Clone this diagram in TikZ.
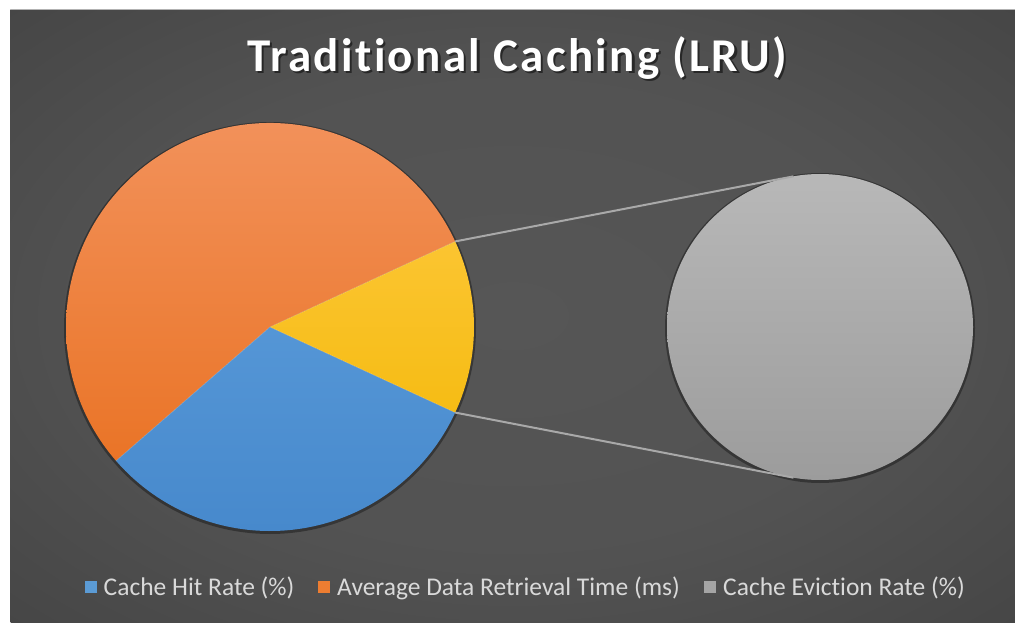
\documentclass[tikz,border=0pt]{standalone}
\usepackage{fontspec}
\setmainfont{Carlito}[Ligatures=NoCommon]
\newfontfamily\titlefont{Carlito}[LetterSpace=5.0, Ligatures=NoCommon]
\usetikzlibrary{calc}

\definecolor{bgIn}{HTML}{565656}
\definecolor{bgOut}{HTML}{292929}
\definecolor{orTop}{HTML}{F2915A}
\definecolor{orBot}{HTML}{E86E1C}
\definecolor{blTop}{HTML}{62A3E0}
\definecolor{blBot}{HTML}{4789CC}
\definecolor{yeTop}{HTML}{FFCB45}
\definecolor{yeBot}{HTML}{F2B600}
\definecolor{grTop}{HTML}{B8B8B8}
\definecolor{grBot}{HTML}{9C9C9C}
\definecolor{legText}{HTML}{D9D9D9}
\definecolor{linkGray}{HTML}{A9A9A9}
\definecolor{orKey}{HTML}{ED7D31}
\definecolor{blKey}{HTML}{5B9BD5}
\definecolor{grKey}{HTML}{A5A5A5}

\pgfdeclareradialshading{panelglow}{\pgfpoint{0bp}{0bp}}{%
  color(0bp)=(bgIn); color(20bp)=(bgIn!92!bgOut); color(72bp)=(bgOut)}

\tikzset{
  legendkey/.style={minimum size=12pt, inner sep=0pt, draw=none},
  legendlabel/.style={text=legText, font=\fontsize{25.5}{28}\selectfont, anchor=base west, inner sep=0pt},
  titletext/.style={font=\titlefont\bfseries\fontsize{47}{52}\selectfont, inner sep=0pt},
  link/.style={draw=linkGray, line width=2pt},
}

\begin{document}
\begin{tikzpicture}[x=1pt,y=1pt]
  % page and dark chart panel
  \useasboundingbox (0,0) rectangle (1015,622);
  \fill[white] (0,0) rectangle (1015,622);
  \shade[shading=panelglow] (10.5,0) rectangle (1015,612.5);
  \draw[gray!60, line width=0.8pt] (10.5,612.5) -- (1015,612.5);

  % title with a soft drop shadow
  \node[titletext, text=black, opacity=0.5] (titleshadow) at (519.5,561.5) {Traditional Caching (LRU)};
  \node[titletext, text=white] (title) at (517,564) {Traditional Caching (LRU)};

  % main pie
  \coordinate (pc) at (270,295);
  \fill[black, opacity=0.35] (270,294) circle[radius=206pt];
  \begin{scope}
    \clip (pc) -- ++(24.8:204pt) arc[start angle=24.8, end angle=221, radius=204pt] -- cycle;
    \shade[top color=orTop, bottom color=orBot] (66,91) rectangle (474,499);
  \end{scope}
  \begin{scope}
    \clip (pc) -- ++(221:204pt) arc[start angle=221, end angle=335.2, radius=204pt] -- cycle;
    \shade[top color=blTop, bottom color=blBot] (66,91) rectangle (474,499);
  \end{scope}
  \begin{scope}
    \clip (pc) -- ++(-24.8:204pt) arc[start angle=-24.8, end angle=24.8, radius=204pt] -- cycle;
    \shade[top color=yeTop, bottom color=yeBot] (66,91) rectangle (474,499);
  \end{scope}
  % faint slice borders
  \draw[white, opacity=0.25, line width=0.6pt]
    (pc) -- ++(24.8:204pt) (pc) -- ++(221:204pt) (pc) -- ++(-24.8:204pt);

  % secondary pie
  \coordinate (sc) at (820,295);
  \fill[black, opacity=0.35] (820,294) circle[radius=155pt];
  \shade[top color=grTop, bottom color=grBot] (sc) circle[radius=153pt];

  % connector end points
  \coordinate (pUp) at ($(pc)+(24.8:204pt)$);
  \coordinate (pDn) at ($(pc)+(-24.8:204pt)$);
  \coordinate (sUp) at ($(sc)+(100:153pt)$);
  \coordinate (sDn) at ($(sc)+(-100:153pt)$);
  \draw[link] (pUp) -- (sUp);
  \draw[link] (pDn) -- (sDn);

  % legend
  \node[legendkey, fill=blKey] (k1) at (90.5,35) {};
  \node[legendlabel] (l1) at (103.5,27) {Cache Hit Rate (\%)};
  \node[legendkey, fill=orKey] (k2) at (323.5,35) {};
  \node[legendlabel] (l2) at (337,27) {Average Data Retrieval Time (ms)};
  \node[legendkey, fill=grKey] (k3) at (710,35) {};
  \node[legendlabel] (l3) at (723,27) {Cache Eviction Rate (\%)};
\end{tikzpicture}
\end{document}
